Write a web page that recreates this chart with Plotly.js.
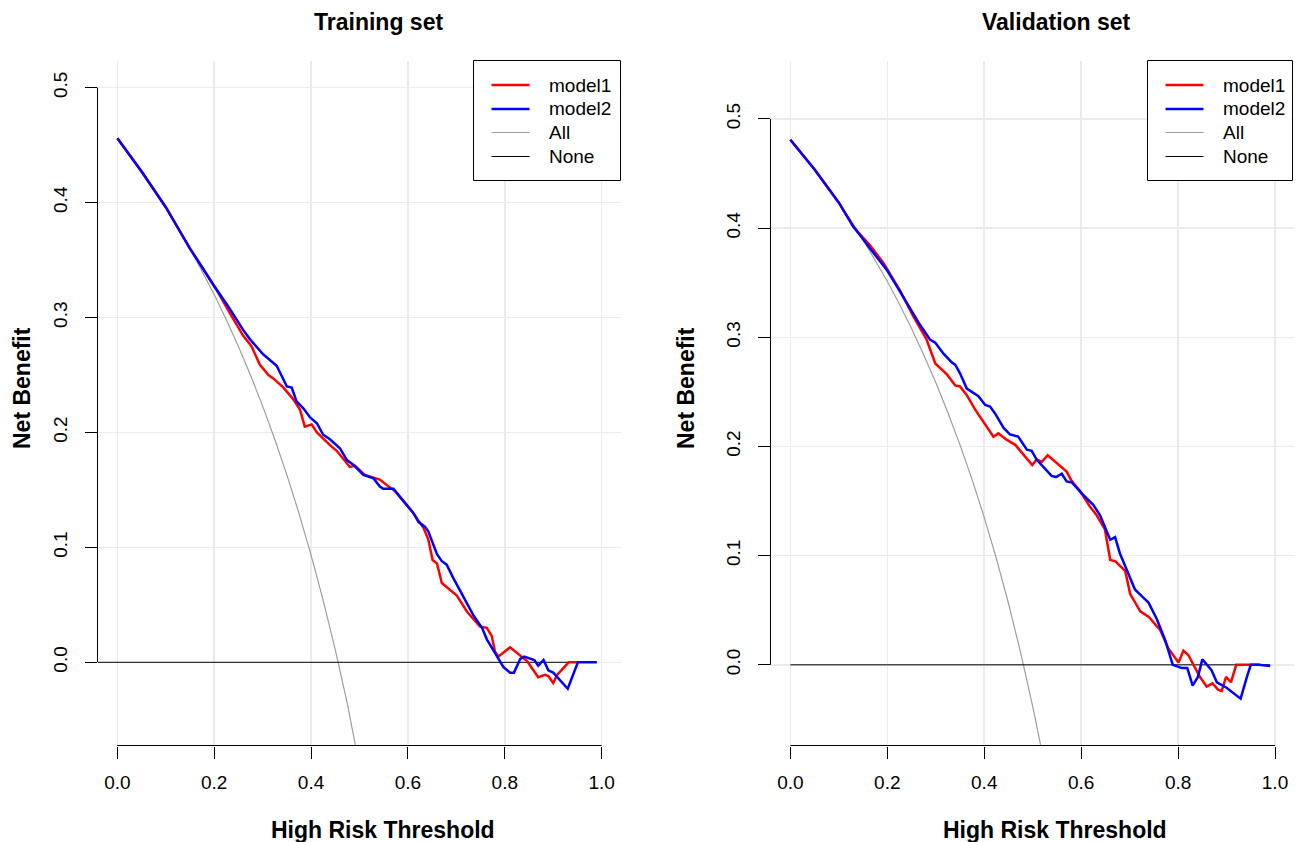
<!DOCTYPE html>
<html><head><meta charset="utf-8">
<script src="https://cdn.plot.ly/plotly-3.0.1.min.js"></script>
<style>html,body{margin:0;padding:0;background:#fff}#chart{width:1299px;height:842px}</style>
</head><body><div id="chart"></div>
<script>
// ---------- data ----------
const xTickVals = [0, 0.2, 0.4, 0.6, 0.8, 1.0];
const xTickText = ['0.0', '0.2', '0.4', '0.6', '0.8', '1.0'];
const yTickVals = [0, 0.1, 0.2, 0.3, 0.4, 0.5];
const yTickText = ['0.0', '0.1', '0.2', '0.3', '0.4', '0.5'];
const seriesNames = ['model1', 'model2', 'All', 'None'];
const panelTitles = ['Training set', 'Validation set'];
const xLabel = 'High Risk Threshold';
const yLabel = 'Net Benefit';

// Training set
const trainM1T = [0,0.05,0.10,0.15,0.17,0.205,0.232,0.26,0.277,0.294,0.312,0.322,0.343,0.363,0.377,0.387,0.401,0.412,0.439,0.453,0.48,0.491,0.511,0.542,0.563,0.573,0.591,0.611,0.632,0.642,0.651,0.66,0.67,0.684,0.701,0.722,0.749,0.763,0.773,0.78,0.787,0.811,0.828,0.846,0.869,0.883,0.89,0.9,0.908,0.932,0.952];
const trainM1NB = [0.456,0.427,0.396,0.36,0.347,0.324,0.304,0.284,0.275,0.259,0.250,0.247,0.239,0.229,0.220,0.205,0.207,0.200,0.189,0.184,0.170,0.171,0.163,0.159,0.152,0.149,0.140,0.130,0.117,0.107,0.089,0.086,0.069,0.064,0.058,0.044,0.031,0.030,0.023,0.009,0.005,0.013,0.007,0.001,-0.013,-0.011,-0.012,-0.018,-0.011,0.0,0.0];
const trainM2T = [0,0.05,0.10,0.15,0.17,0.198,0.23,0.26,0.274,0.301,0.329,0.35,0.36,0.37,0.384,0.398,0.412,0.425,0.439,0.46,0.474,0.487,0.508,0.529,0.542,0.549,0.57,0.584,0.598,0.611,0.622,0.635,0.642,0.66,0.67,0.68,0.694,0.715,0.735,0.753,0.763,0.78,0.797,0.811,0.819,0.832,0.84,0.861,0.869,0.88,0.89,0.9,0.918,0.93,0.951,0.99];
const trainM2NB = [0.456,0.427,0.396,0.36,0.347,0.3285,0.309,0.289,0.281,0.268,0.258,0.240,0.239,0.227,0.221,0.213,0.208,0.198,0.194,0.186,0.176,0.172,0.163,0.160,0.153,0.151,0.151,0.144,0.137,0.130,0.122,0.118,0.114,0.094,0.088,0.085,0.073,0.056,0.041,0.030,0.020,0.008,-0.004,-0.009,-0.009,0.003,0.005,0.002,-0.003,0.002,-0.007,-0.009,-0.018,-0.023,0.0,0.0];
const trainAllT = [0,0.025,0.05,0.075,0.10,0.125,0.15,0.175,0.20,0.225,0.25,0.275,0.30,0.325,0.35,0.375,0.40,0.425,0.45,0.475,0.50,0.525];
const trainAllNB = [0.456,0.4421,0.4274,0.4119,0.3956,0.3783,0.3600,0.3406,0.3200,0.2981,0.2747,0.2497,0.2229,0.1941,0.1631,0.1296,0.0933,0.0539,0.0109,-0.0362,-0.088,-0.1453];
const trainNoneT = [-0.04, 0.99];
const trainNoneNB = [0, 0];

// Validation set
const validM1T = [0,0.05,0.10,0.13,0.164,0.192,0.226,0.254,0.281,0.299,0.323,0.34,0.35,0.364,0.381,0.398,0.419,0.429,0.447,0.464,0.481,0.499,0.508,0.519,0.531,0.55,0.57,0.581,0.598,0.618,0.632,0.649,0.66,0.67,0.677,0.691,0.701,0.722,0.739,0.756,0.763,0.78,0.801,0.811,0.821,0.845,0.859,0.871,0.883,0.89,0.899,0.909,0.92,0.948,0.969];
const validM1NB = [0.481,0.4537,0.4233,0.401,0.3846,0.368,0.343,0.319,0.298,0.276,0.266,0.256,0.255,0.247,0.234,0.223,0.209,0.212,0.206,0.2015,0.192,0.183,0.188,0.186,0.192,0.185,0.177,0.168,0.159,0.145,0.137,0.124,0.096,0.095,0.092,0.086,0.065,0.049,0.044,0.035,0.032,0.015,0.002,0.013,0.009,-0.011,-0.020,-0.017,-0.023,-0.024,-0.011,-0.016,0.0,0.0,0.0];
const validM2T = [0,0.05,0.10,0.13,0.164,0.199,0.226,0.268,0.288,0.299,0.316,0.333,0.34,0.35,0.364,0.378,0.388,0.402,0.412,0.422,0.44,0.453,0.47,0.488,0.498,0.508,0.539,0.548,0.56,0.57,0.581,0.601,0.625,0.639,0.66,0.67,0.68,0.694,0.711,0.725,0.739,0.756,0.773,0.789,0.808,0.819,0.83,0.841,0.85,0.869,0.88,0.9,0.918,0.929,0.942,0.95,0.966,0.99];
const validM2NB = [0.481,0.4537,0.4233,0.4014,0.3816,0.3617,0.342,0.311,0.298,0.295,0.285,0.277,0.275,0.267,0.253,0.249,0.246,0.238,0.2365,0.2305,0.217,0.211,0.209,0.197,0.196,0.188,0.173,0.172,0.175,0.168,0.167,0.157,0.1465,0.137,0.1145,0.117,0.102,0.087,0.069,0.063,0.057,0.042,0.023,0.0,-0.003,-0.003,-0.019,-0.011,0.005,-0.005,-0.016,-0.021,-0.0275,-0.031,-0.011,0.0,0.0,-0.001];
const validAllT = [0,0.025,0.05,0.075,0.10,0.125,0.15,0.175,0.20,0.225,0.25,0.275,0.30,0.325,0.35,0.375,0.40,0.425,0.45,0.475,0.50,0.525,0.55];
const validAllNB = [0.481,0.4677,0.4537,0.4389,0.4233,0.4069,0.3894,0.3709,0.3513,0.3303,0.3080,0.2841,0.2586,0.2311,0.2015,0.1696,0.1350,0.0974,0.0564,0.0114,-0.0380,-0.0926,-0.1533];
const validNoneT = [0, 0.99];
const validNoneNB = [0, 0];

// ---------- styles / geometry ----------
const W = 1299, H = 842;
const FONT = 'Liberation Sans, Arial, Helvetica, sans-serif';
const colors = {model1: '#FF0000', model2: '#0000FF', All: '#9E9E9E', None: '#000000'};
const widths = {model1: 2.5, model2: 2.5, All: 1.2, None: 1};
const panels = [
  {left: 98, right: 621, top: 61, bottom: 745.5, xr: [-0.04, 1.04], yr: [-0.0724, 0.5232],
   titleX: 378, xlabX: 383, ylabX: 22, legL: 473.5, legR: 620.5},
  {left: 771, right: 1294.4, top: 61, bottom: 745.5, xr: [-0.04, 1.04], yr: [-0.0739, 0.5531],
   titleX: 1056, xlabX: 1055, ylabX: 686, legL: 1147.5, legR: 1292.5}
];
const panelData = [
  {m1: [trainM1T, trainM1NB], m2: [trainM2T, trainM2NB], all: [trainAllT, trainAllNB], none: [trainNoneT, trainNoneNB]},
  {m1: [validM1T, validM1NB], m2: [validM2T, validM2NB], all: [validAllT, validAllNB], none: [validNoneT, validNoneNB]}
];

function xpx(p, v) { return p.left + (v - p.xr[0]) / (p.xr[1] - p.xr[0]) * (p.right - p.left); }
function ypx(p, v) { return p.bottom - (v - p.yr[0]) / (p.yr[1] - p.yr[0]) * (p.bottom - p.top); }

const traces = [];
const shapes = [];
const annotations = [];
const layout = {
  width: W, height: H, margin: {l: 0, r: 0, t: 0, b: 0},
  paper_bgcolor: '#fff', plot_bgcolor: '#fff', showlegend: false,
  font: {family: FONT, color: '#000'}
};

panels.forEach((p, i) => {
  const sfx = i === 0 ? '' : '2';
  const xa = 'x' + sfx, ya = 'y' + sfx;
  const d = panelData[i];
  const series = [
    ['All', d.all], ['None', d.none], ['model1', d.m1], ['model2', d.m2]
  ];
  series.forEach(([name, arr]) => {
    traces.push({
      type: 'scatter', mode: 'lines', name: name, x: arr[0], y: arr[1],
      xaxis: xa, yaxis: ya, line: {color: colors[name], width: widths[name]},
      hoverinfo: 'skip'
    });
  });
  layout['xaxis' + sfx] = {
    domain: [p.left / W, p.right / W], range: p.xr, anchor: ya,
    tickmode: 'array', tickvals: xTickVals, ticktext: xTickText,
    ticks: 'outside', ticklen: 12, tickwidth: 1, tickcolor: '#000',
    showline: false, zeroline: false, showgrid: true, gridcolor: '#EBEBEB', gridwidth: 1.5,
    tickfont: {family: FONT, size: 19, color: '#000'}, ticklabelstandoff: 8, fixedrange: true
  };
  layout['yaxis' + sfx] = {
    domain: [1 - p.bottom / H, 1 - p.top / H], range: p.yr, anchor: xa,
    tickmode: 'array', tickvals: yTickVals, ticktext: yTickText, tickangle: -90,
    ticks: 'outside', ticklen: 12, tickwidth: 1, tickcolor: '#000',
    showline: false, zeroline: false, showgrid: true, gridcolor: '#EBEBEB', gridwidth: 1.5,
    tickfont: {family: FONT, size: 19, color: '#000'}, ticklabelstandoff: 10, fixedrange: true
  };
  // axis lines (R style: only between first and last tick)
  shapes.push({type: 'line', xref: 'paper', yref: 'paper',
    x0: xpx(p, xTickVals[0]) / W, x1: xpx(p, xTickVals[xTickVals.length - 1]) / W,
    y0: 1 - p.bottom / H, y1: 1 - p.bottom / H, line: {color: '#000', width: 1}});
  shapes.push({type: 'line', xref: 'paper', yref: 'paper',
    x0: (p.left - 0.5) / W, x1: (p.left - 0.5) / W,
    y0: 1 - ypx(p, yTickVals[0]) / H, y1: 1 - ypx(p, yTickVals[yTickVals.length - 1]) / H,
    line: {color: '#000', width: 1}});
  // titles
  annotations.push({xref: 'paper', yref: 'paper', x: p.titleX / W, y: 1 - 22 / H,
    xanchor: 'center', yanchor: 'middle', showarrow: false, text: panelTitles[i],
    font: {family: FONT, size: 23, color: '#000', weight: 'bold'}});
  annotations.push({xref: 'paper', yref: 'paper', x: p.xlabX / W, y: 1 - 830 / H,
    xanchor: 'center', yanchor: 'middle', showarrow: false, text: xLabel,
    font: {family: FONT, size: 23, color: '#000', weight: 'bold'}});
  annotations.push({xref: 'paper', yref: 'paper', x: p.ylabX / W, y: 1 - 388 / H,
    xanchor: 'center', yanchor: 'middle', showarrow: false, text: yLabel, textangle: -90,
    font: {family: FONT, size: 23, color: '#000', weight: 'bold'}});
  // legend box
  const legT = 60.5, legB = 180.5;
  shapes.push({type: 'rect', xref: 'paper', yref: 'paper',
    x0: p.legL / W, x1: p.legR / W, y0: 1 - legB / H, y1: 1 - legT / H,
    line: {color: '#000', width: 1}, fillcolor: '#fff', layer: 'above'});
  seriesNames.forEach((name, k) => {
    const yy = legT + 24 + k * 24 + (name === 'All' || name === 'None' ? 0 : 0.5);
    shapes.push({type: 'line', xref: 'paper', yref: 'paper',
      x0: (p.legL + 18) / W, x1: (p.legL + 56) / W, y0: 1 - yy / H, y1: 1 - yy / H,
      line: {color: colors[name], width: widths[name]}, layer: 'above'});
    annotations.push({xref: 'paper', yref: 'paper', x: (p.legL + 73) / W, y: 1 - yy / H,
      xanchor: 'left', yanchor: 'middle', showarrow: false, text: name,
      font: {family: FONT, size: 19, color: '#000'}});
  });
});
layout.shapes = shapes;
layout.annotations = annotations;

Plotly.newPlot('chart', traces, layout, {displayModeBar: false, staticPlot: true});
</script>
</body></html>
